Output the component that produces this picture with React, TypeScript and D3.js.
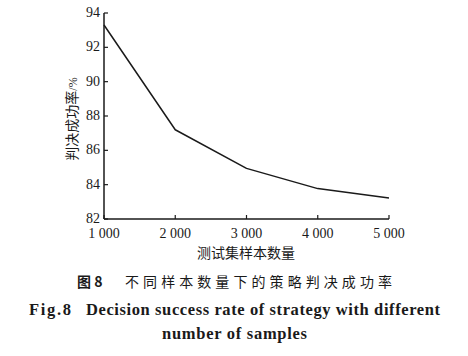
import React from "react";
import * as d3 from "d3";

const samples = [1000, 2000, 3000, 4000, 5000];
const successRate = [93.3, 87.2, 84.95, 83.77, 83.23];
const yTicks = [82, 84, 86, 88, 90, 92, 94];
const xTicks = [1000, 2000, 3000, 4000, 5000];
const xTickLabels = ["1 000", "2 000", "3 000", "4 000", "5 000"];
const xTitle = "测试集样本数量";
const yTitle = "判决成功率";
const yUnit = "/%";
const captionCN = "图 8";
const captionCN2 = "不同样本数量下的策略判决成功率";
const captionEN1a = "Fig.8";
const captionEN1b = "Decision success rate of strategy with different";
const captionEN2 = "number of samples";

const W = 468, H = 356;
const left = 104, right = 389, top = 13, bottom = 219;
const serif = "'Liberation Serif', 'Times New Roman', serif";
const cjk = "'Noto Sans CJK SC', sans-serif";
const ink = "#1a1a1a";

export default function App() {
  const x = d3.scaleLinear().domain([1000, 5000]).range([left, right]);
  const y = d3.scaleLinear().domain([82, 94]).range([bottom, top]);
  const line = d3.line<number>().x((_, i) => x(samples[i])).y((d) => y(d));
  return (
    <svg width={W} height={H} style={{ position: "absolute", left: 0, top: 0, background: "#fff" }}>
      <rect width={W} height={H} fill="#fff" />
      <line x1={left} x2={left} y1={top} y2={bottom} stroke={ink} strokeWidth={1.5} />
      <line x1={left} x2={right} y1={bottom} y2={bottom} stroke={ink} strokeWidth={1.5} />
      {yTicks.map((t) => (
        <g key={"y" + t}>
          <line x1={left} x2={left + 4} y1={y(t)} y2={y(t)} stroke={ink} strokeWidth={1.2} />
          <text x={left - 4} y={y(t) - 1} dy="0.35em" textAnchor="end" fontFamily={serif} fontSize={14} fill={ink}>
            {t}
          </text>
        </g>
      ))}
      {xTicks.map((t, i) => (
        <g key={"x" + t}>
          <line x1={x(t)} x2={x(t)} y1={bottom} y2={bottom - 4} stroke={ink} strokeWidth={1.2} />
          <text x={x(t)} y={238} textAnchor="middle" fontFamily={serif} fontSize={14} fill={ink}>
            {xTickLabels[i]}
          </text>
        </g>
      ))}
      <text x={246} y={258} textAnchor="middle" fontFamily={cjk} fontSize={14} fill={ink}>
        {xTitle}
      </text>
      <text transform="translate(77,119) rotate(-90)" textAnchor="middle" fontFamily={cjk} fontSize={14} fill={ink}>
        {yTitle}
        <tspan fontFamily={serif} fontSize={12}>{yUnit}</tspan>
      </text>
      <path d={line(successRate) || ""} fill="none" stroke={ink} strokeWidth={1.5} strokeLinejoin="round" />
      <text x={77} y={287} fontFamily={cjk} fontSize={14} fontWeight="bold" fill={ink}>
        {captionCN}
      </text>
      <text x={125} y={287} fontFamily={cjk} fontSize={14} fill={ink} textLength={267} lengthAdjust="spacing">
        {captionCN2}
      </text>
      <text x={29} y={315} fontFamily={serif} fontSize={16.5} fontWeight="bold" fill={ink} textLength={42} lengthAdjust="spacing">
        {captionEN1a}
      </text>
      <text x={86} y={315} fontFamily={serif} fontSize={16.5} fontWeight="bold" fill={ink} textLength={354} lengthAdjust="spacing">
        {captionEN1b}
      </text>
      <text x={162} y={339} fontFamily={serif} fontSize={16.5} fontWeight="bold" fill={ink} textLength={145} lengthAdjust="spacing">
        {captionEN2}
      </text>
    </svg>
  );
}
